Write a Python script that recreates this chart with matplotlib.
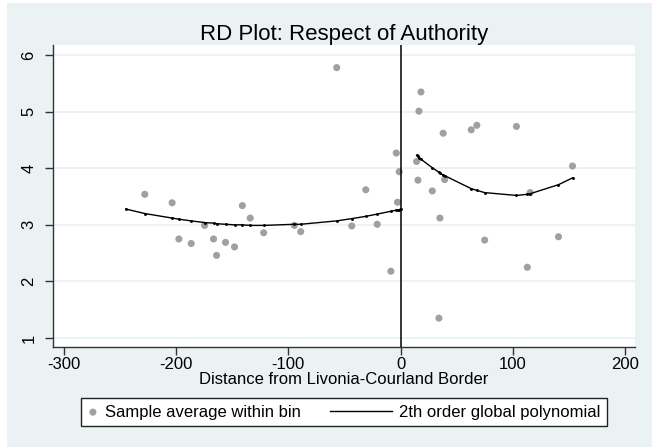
import numpy as np
import matplotlib
matplotlib.use('Agg')
import matplotlib.pyplot as plt
from matplotlib.patches import Rectangle
from matplotlib.legend_handler import HandlerLine2D

plt.rcParams['font.family'] = ['Liberation Sans', 'DejaVu Sans']
plt.rcParams['axes.unicode_minus'] = False

# bin averages (left and right of the border)
bin_x = [-228, -203.6, -197.6, -186.6, -174.7, -166.7, -164, -156, -148, -141,
         -134, -122, -94.6, -89, -56.9, -43.5, -31, -20.8, -8.6, -3.8, -2.7, -1.2,
         14.3, 15.5, 16.4, 18.2, 28.3, 34.2, 35.1, 38, 39.3, 63, 68, 75,
         103.3, 113, 115.5, 140.8, 153.3]
bin_y = [3.54, 3.39, 2.75, 2.67, 2.99, 2.75, 2.46, 2.69, 2.61, 3.34,
         3.12, 2.86, 2.99, 2.88, 5.78, 2.98, 3.62, 3.01, 2.18, 4.27, 3.40, 3.94,
         4.12, 3.79, 5.01, 5.35, 3.60, 1.35, 3.12, 4.62, 3.80, 4.68, 4.76, 2.73,
         4.74, 2.25, 3.57, 2.79, 4.04]

# fitted polynomial
fit_left_x = [-245, -228, -203.6, -197.6, -186.6, -174.7, -166.7, -164, -156, -148,
              -141, -134, -122, -94.6, -89, -56.9, -43.5, -31, -20.8, -8.6,
              -3.8, -2.7, -1.2, 0]
fit_left_y = [3.28, 3.20, 3.12, 3.10, 3.07, 3.04, 3.03, 3.02, 3.01, 3.00,
              3.00, 2.99, 2.99, 3.01, 3.01, 3.07, 3.11, 3.15, 3.19, 3.24,
              3.26, 3.26, 3.27, 3.28]
fit_right_x = [14.3, 15.5, 16.4, 18.2, 28.3, 34.2, 35.1, 38, 39.3, 63, 68, 75,
               103.3, 113, 115.5, 140.8, 153.3]
fit_right_y = [4.23, 4.21, 4.19, 4.16, 4.01, 3.93, 3.92, 3.88, 3.87, 3.64, 3.61, 3.57,
               3.52, 3.54, 3.55, 3.71, 3.83]

x_ticks = [-300, -200, -100, 0, 100, 200]
y_ticks = [1, 2, 3, 4, 5, 6]

BG = '#EAF2F3'
DOT = '#A0A0A0'
AXC = '#333333'


class LongLineHandler(HandlerLine2D):
    """Line handle that reaches further left than the handle box."""
    def get_xdata(self, legend, xdescent, ydescent, width, height, fontsize):
        x1 = -xdescent + width
        x0 = x1 - 3.7 * fontsize
        return np.array([x0, x1]), np.array([x0, x1])


fig = plt.figure(figsize=(6.6, 4.47), dpi=100, facecolor='white')
fig.patches.append(Rectangle((7 / 660, 0), 645 / 660, 444 / 447,
                             transform=fig.transFigure, facecolor=BG,
                             edgecolor='none', zorder=-10))

ax = fig.add_axes([53 / 660, 100 / 447, 582 / 660, 302 / 447])
ax.set_facecolor('white')

ax.scatter(bin_x, bin_y, s=26, color=DOT, edgecolors='none', zorder=3,
           label='Sample average within bin')
line, = ax.plot(fit_left_x, fit_left_y, color='black', lw=1.0, zorder=4,
                label='2th order global polynomial')
ax.plot(fit_right_x, fit_right_y, color='black', lw=1.0, zorder=4)
ax.plot(fit_left_x, fit_left_y, 'o', color='black', ms=1.1, zorder=4)
ax.plot(fit_right_x, fit_right_y, 'o', color='black', ms=1.1, zorder=4)
ax.axvline(0, color='black', lw=1.1, zorder=5)

ax.set_xlim(-309.8, 209)
ax.set_ylim(0.84, 6.18)
ax.set_xticks(x_ticks)
ax.set_yticks(y_ticks)
ax.grid(axis='y', color=BG, lw=1.3)
ax.grid(axis='x', visible=False)
ax.set_axisbelow(True)

for side in ['top', 'right']:
    ax.spines[side].set_visible(False)
for side in ['left', 'bottom']:
    ax.spines[side].set_color(AXC)
    ax.spines[side].set_linewidth(1.0)

ax.tick_params(axis='both', colors=AXC, labelcolor='black', labelsize=12,
               length=6, width=1.0)
ax.tick_params(axis='x', pad=1.5)
ax.tick_params(axis='y', pad=6)
plt.setp(ax.get_yticklabels(), rotation=90, va='center')

ax.set_xlabel('Distance from Livonia-Courland Border', fontsize=12, labelpad=0)
ax.set_title('RD Plot: Respect of Authority', fontsize=16, pad=2)

leg = fig.legend(loc='center', bbox_to_anchor=(344 / 660, 1 - 412 / 447),
                 ncol=2, fontsize=12, handlelength=0.6, handletextpad=0.4,
                 columnspacing=4.9, borderpad=0.4, fancybox=False,
                 framealpha=1, edgecolor='#222222',
                 handler_map={line: LongLineHandler()})
leg.get_frame().set_linewidth(1.0)

fig.savefig('out.png', dpi=100, facecolor=fig.get_facecolor())
